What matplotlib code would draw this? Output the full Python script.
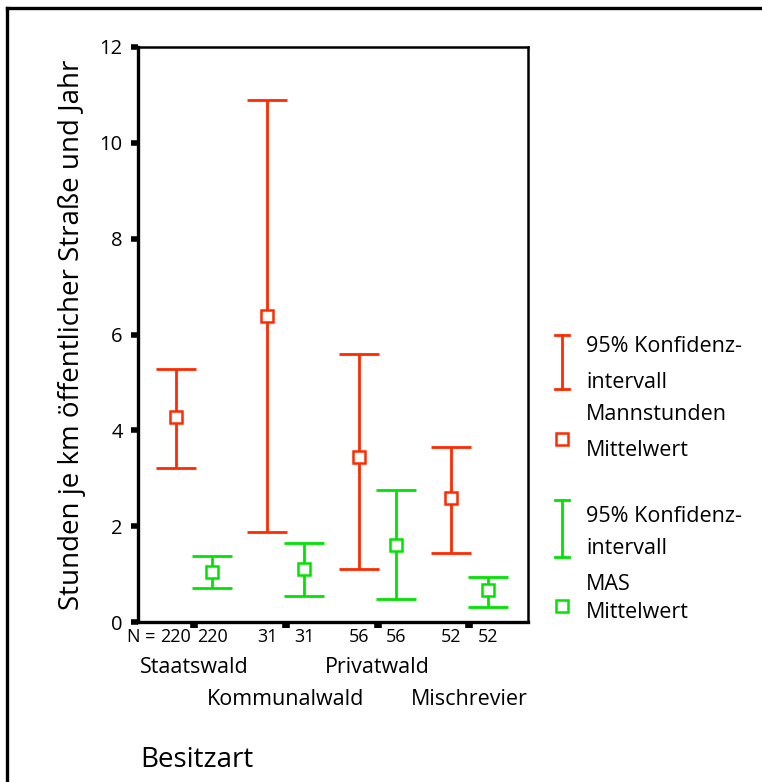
import matplotlib
matplotlib.use("Agg")
import matplotlib.pyplot as plt
from matplotlib.lines import Line2D
from matplotlib.transforms import blended_transform_factory
import numpy as np

plt.rcParams['font.family'] = ['Open Sans', 'DejaVu Sans']

# --- data -------------------------------------------------------------
categories = ["Staatswald", "Kommunalwald", "Privatwald", "Mischrevier"]
n_cases = [220, 31, 56, 52]

mann_mean = [4.27, 6.38, 3.44, 2.58]
mann_lo = [3.22, 1.87, 1.10, 1.43]
mann_hi = [5.27, 10.89, 5.60, 3.66]

mas_mean = [1.04, 1.10, 1.60, 0.66]
mas_lo = [0.705, 0.54, 0.48, 0.32]
mas_hi = [1.37, 1.65, 2.76, 0.93]

y_ticks = [0, 2, 4, 6, 8, 10, 12]

RED = "#ff2a00"
GREEN = "#00e400"

W, H = 762, 782
fig = plt.figure(figsize=(W / 100, H / 100), dpi=100)


def fx(px):
    return px / W


def fy(py):
    return 1 - py / H


ax = fig.add_axes([fx(138), fy(622), fx(528) - fx(138), fy(47) - fy(622)])

pos = np.arange(1, len(categories) + 1)
off = 0.2


def ci_plot(x, mean, lo, hi, color):
    mean = np.asarray(mean)
    err = np.vstack([mean - np.asarray(lo), np.asarray(hi) - mean])
    ax.errorbar(x, mean, yerr=err, fmt='none', ecolor=color, elinewidth=2.0,
                capsize=14.5, capthick=2.0, zorder=3)
    ax.plot(x, mean, ls='none', marker='s', markersize=8.5, mfc='white',
            mec=color, mew=1.8, zorder=4)


ci_plot(pos - off, mann_mean, mann_lo, mann_hi, RED)
ci_plot(pos + off, mas_mean, mas_lo, mas_hi, GREEN)

ax.set_xlim(0.39, 4.64)
ax.set_ylim(0, 12)
ax.set_yticks(y_ticks)
ax.set_yticklabels([str(t) for t in y_ticks], fontsize=14.5)
ax.set_xticks(pos)
ax.set_xticklabels([])
ax.tick_params(axis='y', direction='out', length=5, width=4, pad=6, colors='black')
ax.tick_params(axis='x', direction='out', length=4.5, width=5.5, pad=2)

for side in ('left', 'bottom'):
    ax.spines[side].set_linewidth(2.4)
for side in ('top', 'right'):
    ax.spines[side].set_linewidth(1.8)

ax.set_ylabel("Stunden je km öffentlicher Straße und Jahr", fontsize=20,
              labelpad=10)

# case counts and category names below the axis
tr = blended_transform_factory(ax.transData, ax.transAxes)
for i, (p, n) in enumerate(zip(pos, n_cases)):
    ax.annotate(str(n), xy=(p - off, 0), xycoords=tr, xytext=(0, -10.5),
                textcoords='offset points', ha='center', va='center', fontsize=13)
    ax.annotate(str(n), xy=(p + off, 0), xycoords=tr, xytext=(0, -10.5),
                textcoords='offset points', ha='center', va='center', fontsize=13)
ax.annotate("N = ", xy=(pos[0] - off, 0), xycoords=tr, xytext=(-11, -10.5),
            textcoords='offset points', ha='right', va='center', fontsize=13)

for i, (p, cat) in enumerate(zip(pos, categories)):
    dy = -33 if i % 2 == 0 else -56
    ax.annotate(cat, xy=(p, 0), xycoords=tr, xytext=(0, dy),
                textcoords='offset points', ha='center', va='center', fontsize=15.5)

fig.text(fx(140), fy(760), "Besitzart", fontsize=20, ha='left', va='center')

# outer frame (left and top edges)
fig.add_artist(Line2D([fx(7), fx(7)], [fy(8), 0], color='black', lw=2.4))
fig.add_artist(Line2D([fx(7), 1], [fy(8), fy(8)], color='black', lw=2.4))

# legend
lg = fig.add_axes([0, 0, 1, 1], facecolor='none')
lg.set_xlim(0, W)
lg.set_ylim(H, 0)
lg.axis('off')


def legend_entry(color, top, bottom, sq_y, lines):
    x = 562
    lg.plot([x, x], [top, bottom], color=color, lw=2.0)
    lg.plot([x - 7, x + 7], [top, top], color=color, lw=2.0)
    lg.plot([x - 7, x + 7], [bottom, bottom], color=color, lw=2.0)
    lg.plot([x], [sq_y], marker='s', markersize=8.5, mfc='white', mec=color,
            mew=1.8, ls='none')
    for ty, txt in lines:
        lg.text(586, ty, txt, fontsize=15.5, ha='left', va='center')


legend_entry(RED, 335, 389, 439,
             [(347, "95% Konfidenz-"), (383, "intervall"),
              (415, "Mannstunden"), (450, "Mittelwert")])
legend_entry(GREEN, 500, 557, 606,
             [(516, "95% Konfidenz-"), (549, "intervall"),
              (584, "MAS"), (613, "Mittelwert")])

fig.savefig("out.png", dpi=100)
